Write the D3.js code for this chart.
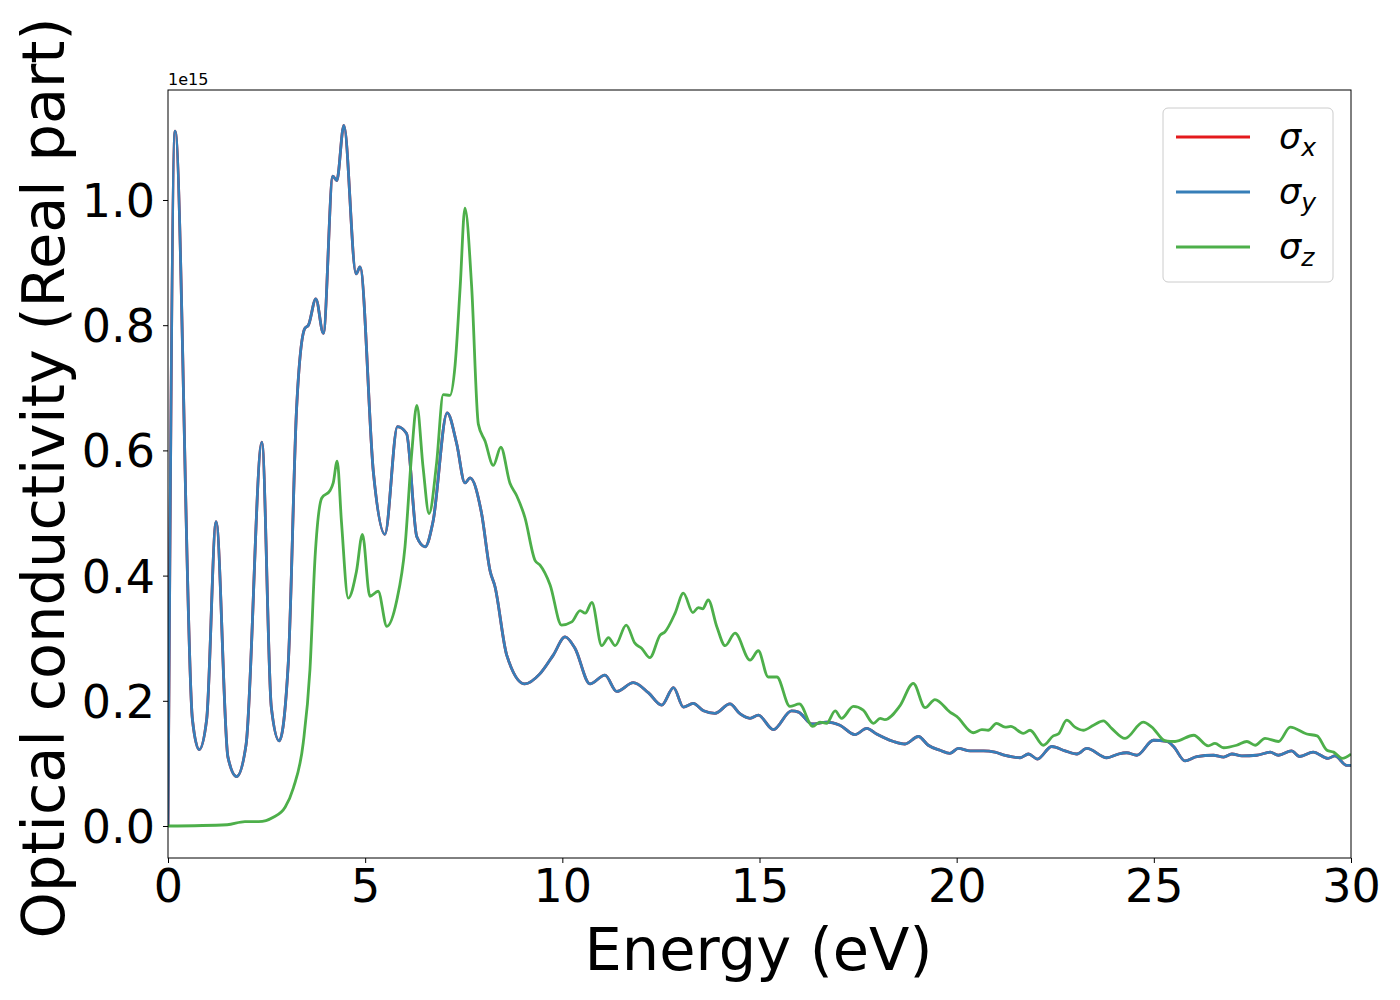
<!DOCTYPE html>
<html>
<head>
<meta charset="utf-8">
<script src="https://cdn.jsdelivr.net/npm/d3@7"></script>
<style>
  body { margin: 0; background: #fff; }
  text { font-family: "DejaVu Sans", sans-serif; }
</style>
</head>
<body>
<svg id="chart" width="1400" height="1000"></svg>
<script>
// energies (eV) and values (x1e15)
var xyEnergy = [0, 0.18, 0.62, 0.79, 0.98, 1.22, 1.52, 1.74, 1.98, 2.38, 2.62, 2.82, 3.05, 3.26, 3.47, 3.56, 3.75, 3.94, 4.18, 4.28, 4.46, 4.77, 4.87, 5.21, 5.50, 5.82, 6.05, 6.31, 6.52, 6.72, 7.08, 7.32, 7.53, 7.66, 7.95, 8.17, 8.29, 8.59, 9.05, 9.43, 9.77, 10.07, 10.32, 10.70, 11.08, 11.38, 11.80, 12.18, 12.52, 12.82, 13.07, 13.32, 13.58, 13.87, 14.25, 14.51, 14.76, 14.97, 15.35, 15.81, 15.99, 16.33, 16.70, 17.04, 17.42, 17.72, 17.97, 18.40, 18.69, 19.03, 19.28, 19.58, 19.83, 20.04, 20.34, 20.68, 20.97, 21.23, 21.61, 21.82, 22.05, 22.41, 22.75, 23.05, 23.30, 23.81, 24.10, 24.31, 24.57, 24.99, 25.33, 25.50, 25.79, 26.09, 26.51, 26.77, 26.98, 27.23, 27.61, 27.95, 28.16, 28.49, 28.70, 29.04, 29.42, 29.59, 29.89, 30];
var xyValue = [0, 1.11, 0.17, 0.122, 0.17, 0.486, 0.11, 0.079, 0.13, 0.613, 0.19, 0.136, 0.26, 0.666, 0.795, 0.80, 0.842, 0.787, 1.038, 1.031, 1.119, 0.882, 0.893, 0.564, 0.466, 0.638, 0.627, 0.462, 0.446, 0.486, 0.660, 0.611, 0.548, 0.556, 0.50, 0.407, 0.383, 0.273, 0.227, 0.243, 0.273, 0.302, 0.284, 0.227, 0.241, 0.215, 0.229, 0.213, 0.193, 0.221, 0.190, 0.196, 0.184, 0.180, 0.195, 0.179, 0.172, 0.177, 0.154, 0.184, 0.182, 0.163, 0.166, 0.161, 0.146, 0.156, 0.147, 0.135, 0.131, 0.143, 0.129, 0.121, 0.116, 0.124, 0.120, 0.120, 0.118, 0.113, 0.109, 0.115, 0.107, 0.127, 0.120, 0.115, 0.124, 0.109, 0.115, 0.117, 0.113, 0.137, 0.135, 0.127, 0.104, 0.111, 0.113, 0.110, 0.115, 0.112, 0.113, 0.118, 0.113, 0.120, 0.111, 0.118, 0.108, 0.112, 0.097, 0.097];

var zEnergy = [0, 1.5, 1.95, 2.3, 2.67, 2.97, 3.18, 3.43, 3.60, 3.73, 3.90, 4.11, 4.19, 4.29, 4.40, 4.57, 4.78, 4.93, 5.12, 5.33, 5.55, 5.80, 6.01, 6.18, 6.31, 6.47, 6.62, 6.81, 6.98, 7.15, 7.28, 7.41, 7.53, 7.70, 7.87, 8.04, 8.25, 8.44, 8.67, 8.84, 9.05, 9.31, 9.43, 9.69, 9.98, 10.24, 10.45, 10.58, 10.75, 11.00, 11.17, 11.34, 11.62, 11.84, 12.01, 12.22, 12.48, 12.60, 12.86, 13.07, 13.31, 13.45, 13.56, 13.70, 13.92, 14.13, 14.38, 14.76, 14.97, 15.22, 15.44, 15.77, 16.01, 16.35, 16.53, 16.70, 16.92, 17.08, 17.38, 17.63, 17.89, 18.06, 18.18, 18.56, 18.90, 19.20, 19.45, 19.83, 20.00, 20.42, 20.64, 20.80, 21.01, 21.23, 21.37, 21.69, 21.86, 22.20, 22.45, 22.58, 22.79, 23.00, 23.21, 23.47, 23.72, 23.93, 24.27, 24.73, 24.95, 25.29, 25.54, 26.01, 26.38, 26.55, 26.77, 27.10, 27.36, 27.57, 27.82, 28.16, 28.46, 28.88, 29.14, 29.39, 29.56, 29.78, 30];
var zValue = [0, 0.002, 0.007, 0.007, 0.014, 0.030, 0.061, 0.133, 0.25, 0.43, 0.524, 0.536, 0.548, 0.583, 0.485, 0.364, 0.407, 0.466, 0.367, 0.375, 0.319, 0.36, 0.446, 0.595, 0.672, 0.572, 0.499, 0.579, 0.689, 0.688, 0.736, 0.862, 0.987, 0.862, 0.642, 0.615, 0.576, 0.605, 0.548, 0.528, 0.493, 0.424, 0.417, 0.385, 0.321, 0.326, 0.344, 0.340, 0.357, 0.288, 0.301, 0.288, 0.321, 0.292, 0.284, 0.269, 0.305, 0.310, 0.340, 0.372, 0.341, 0.349, 0.347, 0.361, 0.318, 0.288, 0.308, 0.265, 0.280, 0.238, 0.238, 0.191, 0.195, 0.159, 0.166, 0.164, 0.184, 0.172, 0.191, 0.185, 0.164, 0.172, 0.170, 0.192, 0.228, 0.189, 0.202, 0.182, 0.175, 0.149, 0.154, 0.153, 0.164, 0.158, 0.159, 0.148, 0.153, 0.129, 0.144, 0.147, 0.169, 0.158, 0.153, 0.161, 0.168, 0.156, 0.140, 0.166, 0.158, 0.136, 0.135, 0.145, 0.128, 0.132, 0.125, 0.129, 0.135, 0.129, 0.140, 0.135, 0.158, 0.147, 0.144, 0.121, 0.118, 0.108, 0.115];

var seriesNames = ["x", "y", "z"];
var seriesColors = ["#e41a1c", "#377eb8", "#4daf4a"];
var xTicks = [0, 5, 10, 15, 20, 25, 30];
var yTicks = [0, 0.2, 0.4, 0.6, 0.8, 1.0];

var mLeft = 168, mRight = 1351, mTop = 90, mBottom = 858;
var svg = d3.select("#chart");

var x = d3.scaleLinear().domain([0, 30]).range([mLeft, mRight]);
var y = d3.scaleLinear().domain([-0.0511, 1.1757]).range([mBottom, mTop]);

var xyPts = xyEnergy.map(function(e, i) { return [e, xyValue[i]]; });
var zPts = zEnergy.map(function(e, i) { return [e, zValue[i]]; });
var data = [xyPts, xyPts, zPts];

var line = d3.line()
    .x(function(d) { return x(d[0]); })
    .y(function(d) { return y(d[1]); })
    .curve(d3.curveMonotoneX);

svg.append("defs").append("clipPath").attr("id", "clip")
  .append("rect").attr("x", mLeft).attr("y", mTop)
  .attr("width", mRight - mLeft).attr("height", mBottom - mTop);

svg.append("g").attr("clip-path", "url(#clip)")
  .selectAll("path").data(data).enter().append("path")
    .attr("d", line)
    .attr("fill", "none")
    .attr("stroke", function(d, i) { return seriesColors[i]; })
    .attr("stroke-width", 2.8)
    .attr("stroke-linejoin", "round");

// axes
var xAxis = svg.append("g").attr("transform", "translate(0," + mBottom + ")")
    .call(d3.axisBottom(x).tickValues(xTicks).tickFormat(d3.format("d")).tickSizeOuter(0).tickSize(5).tickPadding(6));
var yAxis = svg.append("g").attr("transform", "translate(" + mLeft + ",0)")
    .call(d3.axisLeft(y).tickValues(yTicks).tickFormat(d3.format(".1f")).tickSizeOuter(0).tickSize(5).tickPadding(8));
[xAxis, yAxis].forEach(function(a) {
  a.select(".domain").remove();
  a.selectAll("text").attr("font-size", 46).attr("fill", "#000").style("font-family", "DejaVu Sans");
  a.selectAll("line").attr("stroke", "#000").attr("stroke-width", 1);
});
yAxis.selectAll("text").attr("dy", "0.36em");

svg.append("rect").attr("x", mLeft).attr("y", mTop)
  .attr("width", mRight - mLeft).attr("height", mBottom - mTop)
  .attr("fill", "none").attr("stroke", "#000").attr("stroke-width", 1);

svg.append("text").attr("x", mLeft).attr("y", mTop - 5)
  .attr("font-size", 16).text("1e15");

svg.append("text").attr("x", (mLeft + mRight) / 2 - 1).attr("y", 970)
  .attr("text-anchor", "middle").attr("font-size", 59).text("Energy (eV)");

svg.append("text").attr("transform", "translate(64," + 478 + ") rotate(-90)")
  .attr("text-anchor", "middle").attr("font-size", 59).text("Optical conductivity (Real part)");

// legend
var lg = svg.append("g");
lg.append("rect").attr("x", 1163).attr("y", 108).attr("width", 170).attr("height", 174)
  .attr("rx", 5).attr("fill", "#fff").attr("stroke", "#ccc").attr("stroke-width", 1);
seriesNames.forEach(function(n, i) {
  var yy = 137 + i * 55;
  lg.append("line").attr("x1", 1176).attr("x2", 1250).attr("y1", yy).attr("y2", yy)
    .attr("stroke", seriesColors[i]).attr("stroke-width", 2.8);
  var t = lg.append("text").attr("x", 1279).attr("y", yy + 12).attr("font-size", 35);
  t.append("tspan").attr("font-style", "italic").text("σ");
  t.append("tspan").attr("font-style", "italic").attr("font-size", 25).attr("dy", 7).text(n);
});
</script>
</body>
</html>
